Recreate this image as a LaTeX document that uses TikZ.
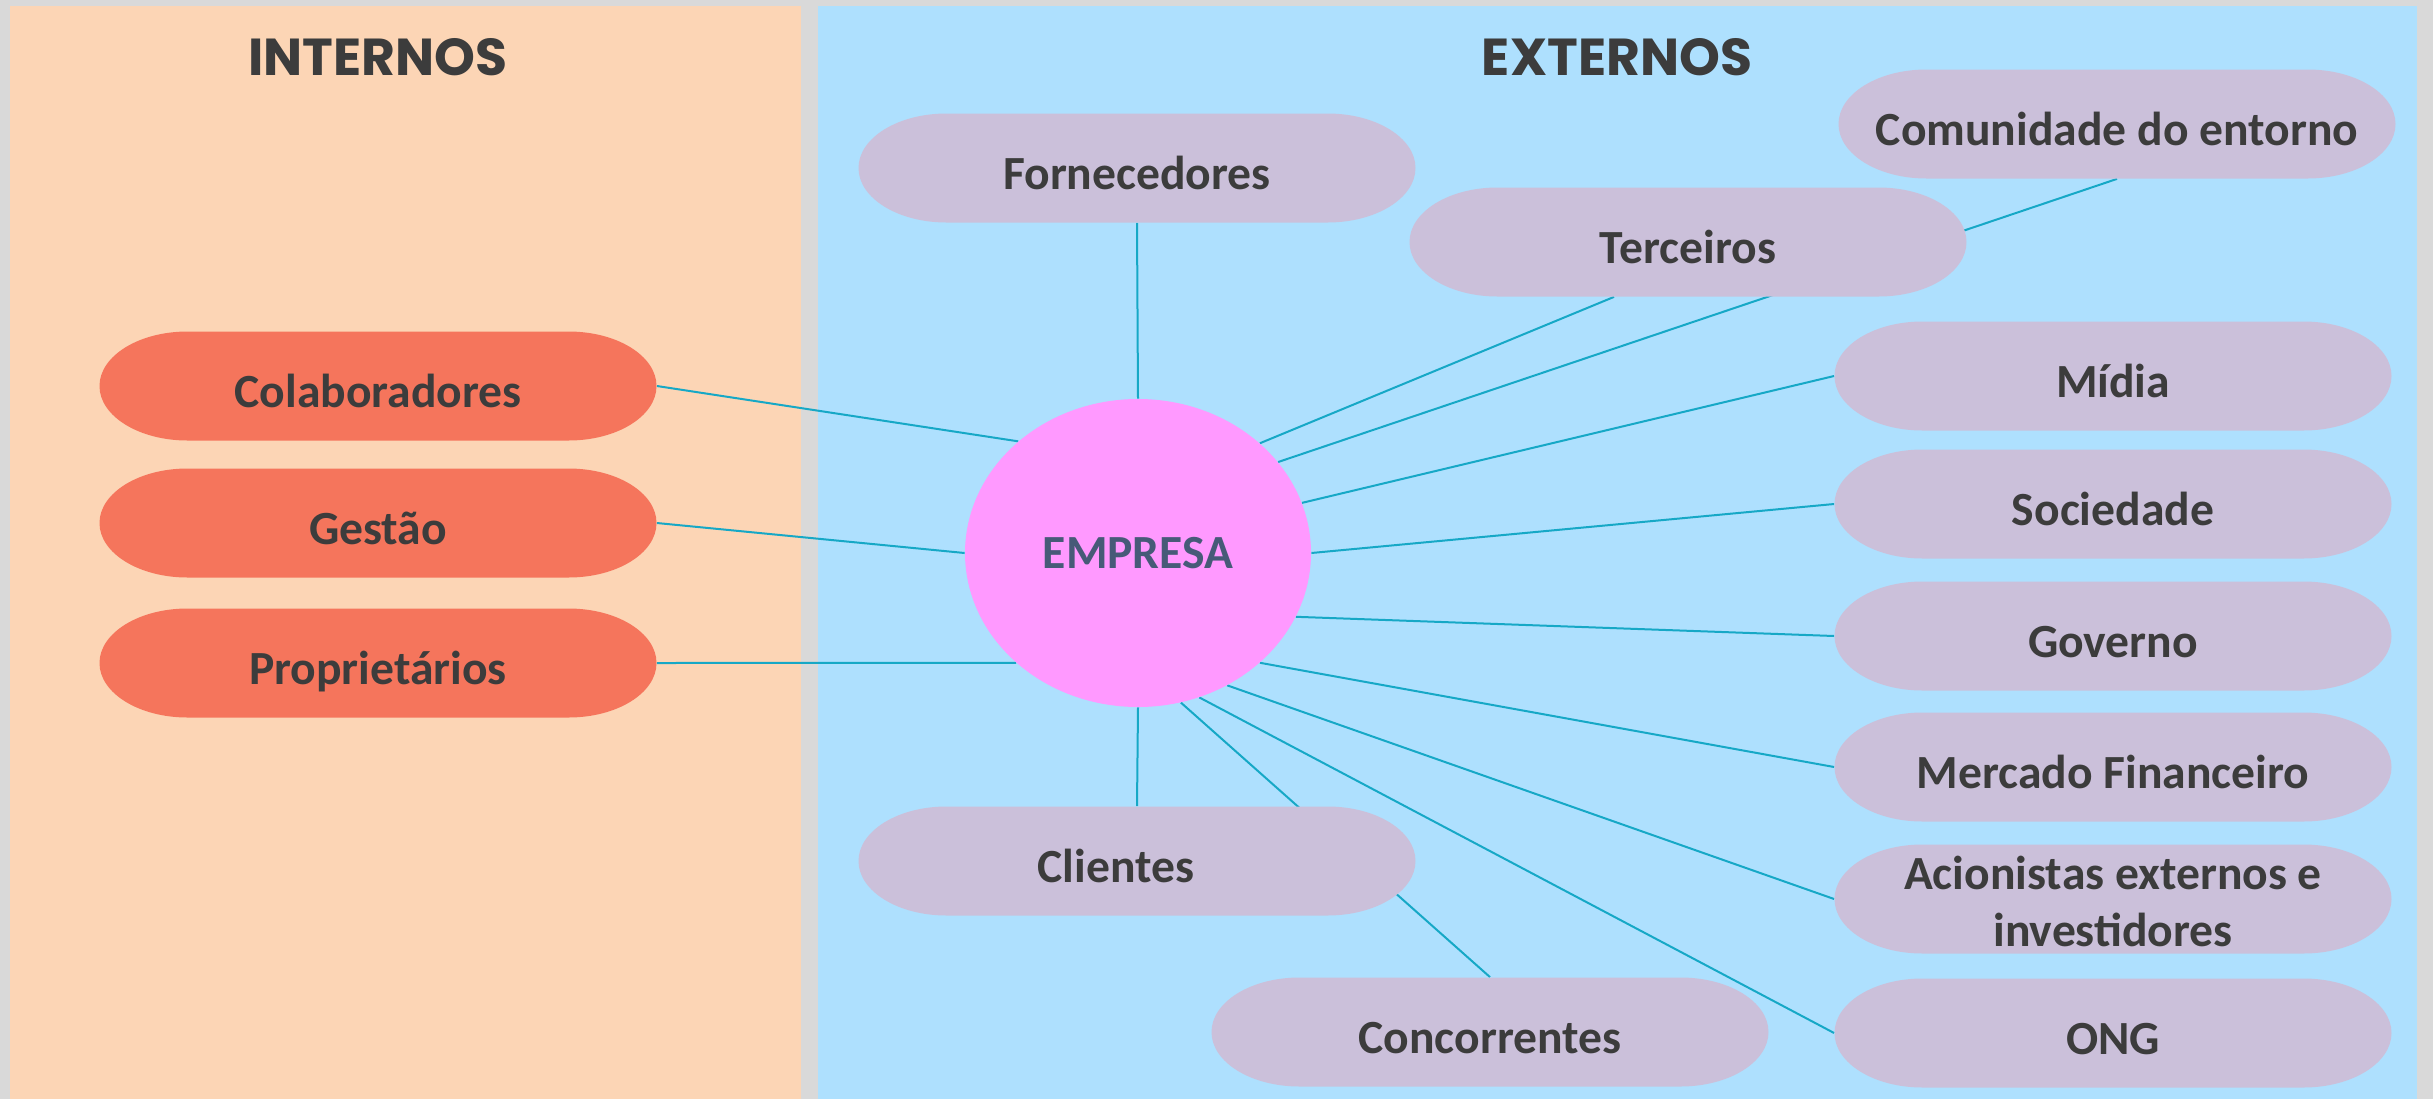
\documentclass[tikz,border=0pt]{standalone}
\usepackage{fontspec}
\setmainfont{Carlito}
\newfontfamily\titlefont{Poppins}
\usetikzlibrary{calc,shapes.geometric}
\definecolor{bggray}{HTML}{D9D9D9}
\definecolor{peach}{HTML}{FCD5B5}
\definecolor{skyb}{HTML}{AEE0FE}
\definecolor{coral}{HTML}{F5755C}
\definecolor{lav}{HTML}{CBC0DA}
\definecolor{pinkv}{HTML}{FF99FF}
\definecolor{txt}{HTML}{3C3C3C}
\definecolor{emptxt}{HTML}{475A78}
\definecolor{linkc}{HTML}{16A8C6}
\pgfdeclarelayer{bgzero}
\pgfdeclarelayer{bgone}
\pgfsetlayers{bgzero,bgone,main}
\tikzset{
  pillbox/.style={rectangle, inner sep=0pt, minimum width=278.5pt, minimum height=54.5pt,
    text=txt, font=\bfseries\fontsize{23.8pt}{28.7pt}\selectfont,
    path picture={\fill[#1] ($(path picture bounding box.north west)+(44pt,0pt)$)
      -- ($(path picture bounding box.north east)+(-44pt,0pt)$)
      arc[start angle=90,end angle=-90,x radius=44pt,y radius=27.25pt]
      -- ($(path picture bounding box.south west)+(44pt,0pt)$)
      arc[start angle=270,end angle=90,x radius=44pt,y radius=27.25pt] -- cycle;}},
  oneline/.style={text height=21.6pt, text depth=0pt},
  inner/.style={pillbox=coral, oneline},
  outer/.style={pillbox=lav, oneline},
  outertwo/.style={pillbox=lav, text height=22.45pt, text depth=32.05pt},
  hub/.style={ellipse, inner sep=0pt, minimum width=173pt, minimum height=154pt,
    fill=pinkv, text=emptxt, font=\bfseries\fontsize{23.8pt}{28.7pt}\selectfont},
  paneltitle/.style={text=txt, font=\titlefont\bfseries\fontsize{26pt}{30pt}\selectfont},
  link/.style={draw=linkc, line width=1pt}
}
\begin{document}
\begin{tikzpicture}[x=0.5pt,y=0.5pt]
\useasboundingbox (0,0) rectangle (2433,-1099);
\begin{pgfonlayer}{bgzero}
  \fill[bggray] (0,0) rectangle (2433,-1099);
  \fill[peach] (10,-6) rectangle (801,-1099);
  \fill[skyb] (818,-6) rectangle (2417,-1099);
\end{pgfonlayer}

\node[paneltitle] (tin) at (378,-57) {INTERNOS};
\node[paneltitle] (tex) at (1617,-57) {EXTERNOS};

\node[inner] (col) at (378,-386) {Colaboradores};
\node[inner] (ges) at (378,-523) {Gestão};
\node[inner] (pro) at (378,-663) {Proprietários};

\node[hub] (emp) at (1138,-553) {EMPRESA};

\node[outer] (for) at (1137,-168) {Fornecedores};
\node[outer] (ter) at (1688,-242) {Terceiros};
\node[outer] (com) at (2117,-124) {Comunidade do entorno};
\node[outer] (mid) at (2113,-376) {Mídia};
\node[outer] (soc) at (2113,-504) {Sociedade};
\node[outer] (gov) at (2113,-636) {Governo};
\node[outer] (mer) at (2113,-767) {Mercado Financeiro};
\node[outertwo] (aci) at (2113,-899) {\begin{tabular}[t]{@{}c@{}}Acionistas externos e\\investidores\end{tabular}};
\node[outer] (ong) at (2113,-1033) {ONG};
\node[outer] (cli) at (1137,-861) {Clientes\hspace*{21pt}};
\node[outer] (con) at (1490,-1032) {Concorrentes};

\begin{pgfonlayer}{bgone}
  \draw[link] (col.east) -- (emp.137);
  \draw[link] (ges.east) -- (emp.180);
  \draw[link] (pro.east) -- (emp.222);
  \draw[link] (for.south) -- (emp.north);
  \draw[link] ($(ter.south)+(-74,0)$) -- (emp.42);
  \draw[link] (com.south) -- (emp.33);
  \draw[link] (mid.west) -- (emp.17);
  \draw[link] (soc.west) -- (emp.0);
  \draw[link] (gov.west) -- (emp.-22.5);
  \draw[link] (mer.west) -- (emp.-42);
  \draw[link] (aci.west) -- (emp.-56);
  \draw[link] (ong.west) -- (emp.-67);
  \draw[link] (cli.north) -- (emp.south);
  \draw[link] (con.north) -- (emp.-74.4);
\end{pgfonlayer}
\end{tikzpicture}
\end{document}
